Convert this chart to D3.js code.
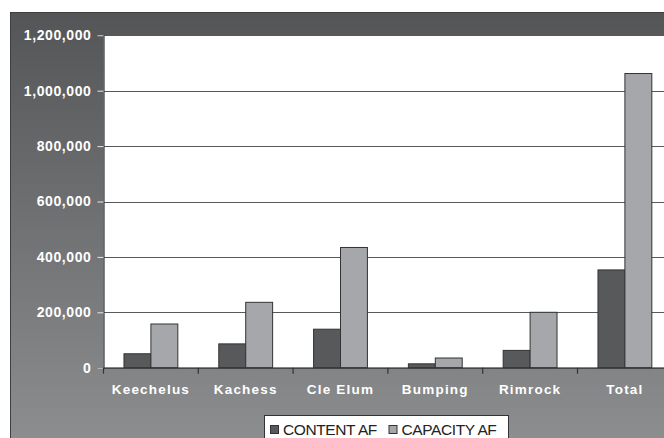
<!DOCTYPE html>
<html><head><meta charset="utf-8">
<script src="https://cdn.jsdelivr.net/npm/d3@7"></script>
<style>
html,body{margin:0;padding:0;background:#fff;overflow:hidden}
svg{display:block}
</style></head>
<body>
<svg id="c" width="664" height="438"></svg>
<script>
const categories = ["Keechelus","Kachess","Cle Elum","Bumping","Rimrock","Total"];
const contentAF  = [50300, 86000, 139000, 14000, 62500, 353000];
const capacityAF = [157800, 236000, 434000, 35000, 200000, 1062000];
const yTicks = [0, 200000, 400000, 600000, 800000, 1000000, 1200000];
const seriesNames = ["CONTENT AF", "CAPACITY AF"];
const seriesColors = ["#58595b", "#a5a7aa"];

const svg = d3.select("#c");
const defs = svg.append("defs");
const g = defs.append("linearGradient").attr("id","bg").attr("x1",0).attr("y1",0).attr("x2",0).attr("y2",1);
g.append("stop").attr("offset","0%").attr("stop-color","#545557");
g.append("stop").attr("offset","100%").attr("stop-color","#8e8f91");

svg.append("rect").attr("x",10.5).attr("y",12.5).attr("width",700).attr("height",440)
  .attr("fill","url(#bg)").attr("stroke","#3e3f41").attr("stroke-width",1);

const pLeft = 103.5, pRight = 672.3, pTop = 35.3, pBottom = 367.7;
const x = d3.scaleBand().domain(categories).range([pLeft, pRight]).padding(0);
const y = d3.scaleLinear().domain([0, 1200000]).range([pBottom, pTop]);

// plot area
svg.append("rect").attr("x",pLeft).attr("y",pTop).attr("width",pRight-pLeft).attr("height",pBottom-pTop)
  .attr("fill","#ffffff");

// gridlines
svg.append("g").selectAll("line").data(yTicks.filter(d=>d>0)).join("line")
  .attr("x1",pLeft).attr("x2",pRight)
  .attr("y1",d=>Math.round(y(d))+0.5).attr("y2",d=>Math.round(y(d))+0.5)
  .attr("stroke","#58595b").attr("stroke-width",1.2);

// bars
const bw = x.bandwidth();
const bars = svg.append("g");
categories.forEach((c,i)=>{
  [contentAF[i], capacityAF[i]].forEach((v,j)=>{
    bars.append("rect")
      .attr("x", x(c) + bw*0.216 + j*bw*0.284)
      .attr("y", y(v))
      .attr("width", bw*0.284)
      .attr("height", pBottom - y(v))
      .attr("fill", seriesColors[j])
      .attr("stroke","#333335").attr("stroke-width",1);
  });
});

// y axis
const yAxis = d3.axisLeft(y).tickValues(yTicks).tickSize(6).tickPadding(6)
  .tickFormat(d3.format(","));
const ya = svg.append("g").attr("transform",`translate(${pLeft},0)`).call(yAxis);
ya.select(".domain").attr("stroke","#333335").attr("stroke-width",1.2);
ya.selectAll(".tick line").attr("stroke","#e8e8e8");
ya.selectAll("text").attr("fill","#ffffff").attr("font-family","Liberation Sans, Arial, sans-serif")
  .attr("font-weight","bold").attr("font-size","14px").attr("letter-spacing","0.6px");

// x axis
const xAxis = d3.axisBottom(x).tickSize(0).tickPadding(17);
const xa = svg.append("g").attr("transform",`translate(0,${pBottom})`).call(xAxis);
xa.select(".domain").attr("stroke","#333335").attr("stroke-width",1.2);
xa.selectAll("text").attr("fill","#ffffff").attr("font-family","Liberation Sans, Arial, sans-serif")
  .attr("font-weight","bold").attr("font-size","13.5px").attr("letter-spacing","1.2px");
// category boundary ticks
svg.append("g").selectAll("line").data(categories).join("line")
  .attr("x1",d=>x(d)).attr("x2",d=>x(d))
  .attr("y1",pBottom).attr("y2",pBottom+6)
  .attr("stroke","#333335").attr("stroke-width",1.2);

// legend
const lg = svg.append("g");
lg.append("rect").attr("x",264.5).attr("y",415.5).attr("width",244).attr("height",40)
  .attr("fill","#ffffff").attr("stroke","#333335").attr("stroke-width",1);
const legX = [270, 388.5];
seriesNames.forEach((n,j)=>{
  lg.append("rect").attr("x",legX[j]+0.5).attr("y",425.5).attr("width",8).attr("height",8)
    .attr("fill",seriesColors[j]).attr("stroke","#333335").attr("stroke-width",1);
  lg.append("text").attr("x",legX[j]+13).attr("y",435)
    .attr("font-family","Liberation Sans, Arial, sans-serif").attr("font-size","15.5px")
    .attr("letter-spacing","-0.4px")
    .attr("fill","#222").text(n);
});
</script>
</body></html>
